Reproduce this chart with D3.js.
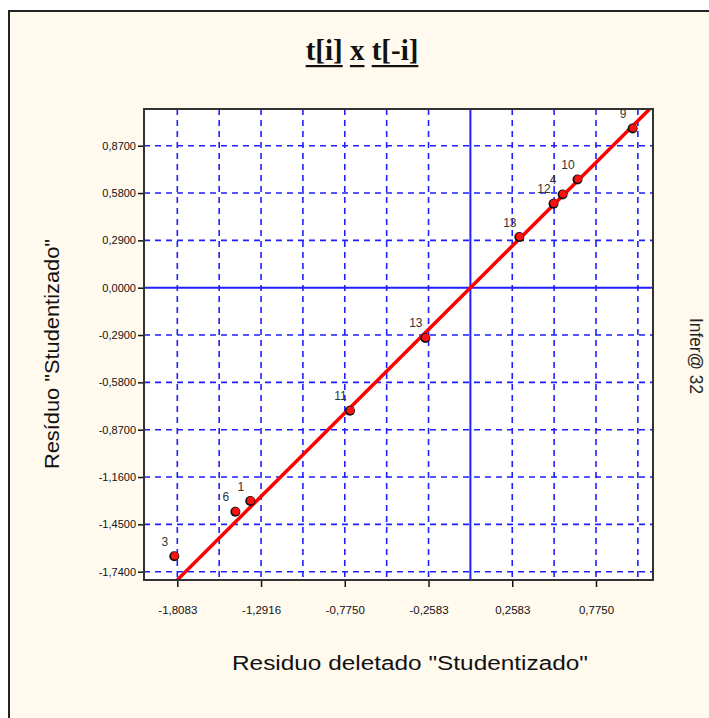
<!DOCTYPE html>
<html><head><meta charset="utf-8">
<script src="https://cdn.jsdelivr.net/npm/d3@7"></script>
<style>
html,body{margin:0;padding:0;background:#fff;}
svg{display:block;}
</style></head>
<body>
<svg id="c" width="709" height="718"></svg>
<script>
// ---- data ----
const pointLabels = ["3","6","1","11","13","13","12","4","10","9"];
const xValues = [-1.824, -1.447, -1.355, -0.740, -0.275, 0.305, 0.516, 0.572, 0.664, 1.004];
const yValues = [-1.642, -1.370, -1.304, -0.751, -0.305, 0.313, 0.518, 0.574, 0.666, 0.979];
const xTickValues = [-1.8083, -1.2916, -0.7750, -0.2583, 0.2583, 0.7750];
const xTickLabels = ["-1,8083", "-1,2916", "-0,7750", "-0,2583", "0,2583", "0,7750"];
const yTickValues = [0.87, 0.58, 0.29, 0, -0.29, -0.58, -0.87, -1.16, -1.45, -1.74];
const yTickLabels = ["0,8700", "0,5800", "0,2900", "0,0000", "-0,2900", "-0,5800", "-0,8700", "-1,1600", "-1,4500", "-1,7400"];
const xGridValues = [-1.8083, -1.55, -1.2916, -1.0333, -0.7750, -0.5166, -0.2583, 0.2583, 0.5166, 0.7750, 1.0333];
const yGridValues = [0.87, 0.58, 0.29, -0.29, -0.58, -0.87, -1.16, -1.45, -1.74];
const fitSlope = 0.99;
const fitRange = [-1.8083, 1.13];
const titleParts = ["t[i]", "x", "t[-i]"];
const xTitle = "Residuo deletado \"Studentizado\"";
const yTitle = "Resíduo \"Studentizado\"";
const sideText = "Infer@ 32";

// ---- layout ----
const svg = d3.select("#c");
const L = 144, R = 653, T = 109, B = 580;
const x = d3.scaleLinear().domain([-2.0138, 1.1267]).range([L, R]);
const y = d3.scaleLinear().domain([-1.791, 1.095]).range([B, T]);

// panel background
svg.append("rect").attr("x", 9).attr("y", 11).attr("width", 760).attr("height", 760)
  .attr("fill", "#FFF9EE").attr("stroke", "#222").attr("stroke-width", 2);

// plot area
svg.append("rect").attr("x", L).attr("y", T).attr("width", R - L).attr("height", B - T)
  .attr("fill", "#fff");

svg.append("defs").append("clipPath").attr("id", "clip")
  .append("rect").attr("x", L).attr("y", T).attr("width", R - L).attr("height", B - T);

const blue = "#1F1FFF";
const grid = svg.append("g");
grid.selectAll("line.vg").data(xGridValues).enter().append("line")
  .attr("x1", d => x(d)).attr("x2", d => x(d)).attr("y1", T).attr("y2", B)
  .attr("stroke", blue).attr("stroke-width", 1.6).attr("stroke-dasharray", "6,5");
grid.selectAll("line.hg").data(yGridValues).enter().append("line")
  .attr("y1", d => y(d)).attr("y2", d => y(d)).attr("x1", L).attr("x2", R)
  .attr("stroke", blue).attr("stroke-width", 1.6).attr("stroke-dasharray", "6,5");
// zero axes
grid.append("line").attr("x1", x(0)).attr("x2", x(0)).attr("y1", T).attr("y2", B)
  .attr("stroke", blue).attr("stroke-width", 2);
grid.append("line").attr("y1", y(0)).attr("y2", y(0)).attr("x1", L).attr("x2", R)
  .attr("stroke", blue).attr("stroke-width", 2);

// fit line
svg.append("line").attr("clip-path", "url(#clip)")
  .attr("x1", x(fitRange[0])).attr("y1", y(fitRange[0] * fitSlope))
  .attr("x2", x(fitRange[1])).attr("y2", y(fitRange[1] * fitSlope))
  .attr("stroke", "#FF0000").attr("stroke-width", 3.5);

// points
const pts = svg.append("g");
const pdata = xValues.map((v, i) => ({x: v, y: yValues[i], l: pointLabels[i]}));
pts.selectAll("circle.sh").data(pdata).enter().append("circle")
  .attr("cx", d => x(d.x) - 0.5).attr("cy", d => y(d.y) + 0.5).attr("r", 5)
  .attr("fill", "#111");
pts.selectAll("circle.pt").data(pdata).enter().append("circle")
  .attr("cx", d => x(d.x)).attr("cy", d => y(d.y)).attr("r", 3.8)
  .attr("fill", "#FF1010");
pts.selectAll("text").data(pdata).enter().append("text")
  .attr("x", d => x(d.x) - 10).attr("y", d => y(d.y) - 10)
  .attr("text-anchor", "middle").attr("font-family", "Arial, 'Liberation Sans', sans-serif")
  .attr("font-size", 12).attr("fill", "#333").text(d => d.l);

// plot border
svg.append("rect").attr("x", L).attr("y", T).attr("width", R - L).attr("height", B - T)
  .attr("fill", "none").attr("stroke", "#333").attr("stroke-width", 2);

// axes
const font = "Arial, 'Liberation Sans', sans-serif";
const yAxis = d3.axisLeft(y).tickValues(yTickValues)
  .tickFormat((d, i) => yTickLabels[i]).tickSize(5).tickPadding(2);
const ga = svg.append("g").attr("transform", `translate(${L - 1},0)`).call(yAxis);
ga.select(".domain").remove();
ga.selectAll("line").attr("stroke", "#111").attr("stroke-width", 1.5);
ga.selectAll("text").attr("font-family", font).attr("font-size", 11).attr("fill", "#111");

const xAxis = d3.axisBottom(x).tickValues(xTickValues)
  .tickFormat((d, i) => xTickLabels[i]).tickSize(6).tickPadding(19);
const gx = svg.append("g").attr("transform", `translate(0,${B + 1})`).call(xAxis);
gx.select(".domain").remove();
gx.selectAll("line").attr("stroke", "#111").attr("stroke-width", 1.5);
gx.selectAll("text").attr("font-family", font).attr("font-size", 11.5).attr("fill", "#111");

// title
const title = svg.append("text").attr("x", 362).attr("y", 60).attr("text-anchor", "middle")
  .attr("font-family", "'Liberation Serif', 'Times New Roman', serif").attr("font-weight", "bold")
  .attr("font-size", 29).attr("fill", "#111").text(titleParts.join(" "));
const tnode = title.node();
const tw = tnode.getComputedTextLength();
const tx0 = 362 - tw / 2;
let offset = 0;
const fullTitle = titleParts.join(" ");
titleParts.forEach((p, i) => {
  const start = fullTitle.indexOf(p, offset);
  const sx = tnode.getSubStringLength(0, start);
  const w = tnode.getSubStringLength(start, p.length);
  svg.append("rect").attr("x", tx0 + sx).attr("y", 65).attr("width", w).attr("height", 2.2).attr("fill", "#111");
  offset = start + p.length;
});

// axis titles
svg.append("text").attr("x", 410).attr("y", 670).attr("text-anchor", "middle")
  .attr("font-family", font).attr("font-size", 20).attr("fill", "#111")
  .attr("textLength", 356).attr("lengthAdjust", "spacingAndGlyphs").text(xTitle);
svg.append("text").attr("transform", "translate(59,354) rotate(-90)").attr("text-anchor", "middle")
  .attr("font-family", font).attr("font-size", 20).attr("fill", "#111")
  .attr("textLength", 230).attr("lengthAdjust", "spacingAndGlyphs").text(yTitle);
svg.append("text").attr("transform", "translate(690,318) rotate(90)").attr("text-anchor", "start")
  .attr("font-family", font).attr("font-size", 18).attr("fill", "#222")
  .attr("textLength", 76).attr("lengthAdjust", "spacingAndGlyphs").text(sideText);
</script>
</body></html>
